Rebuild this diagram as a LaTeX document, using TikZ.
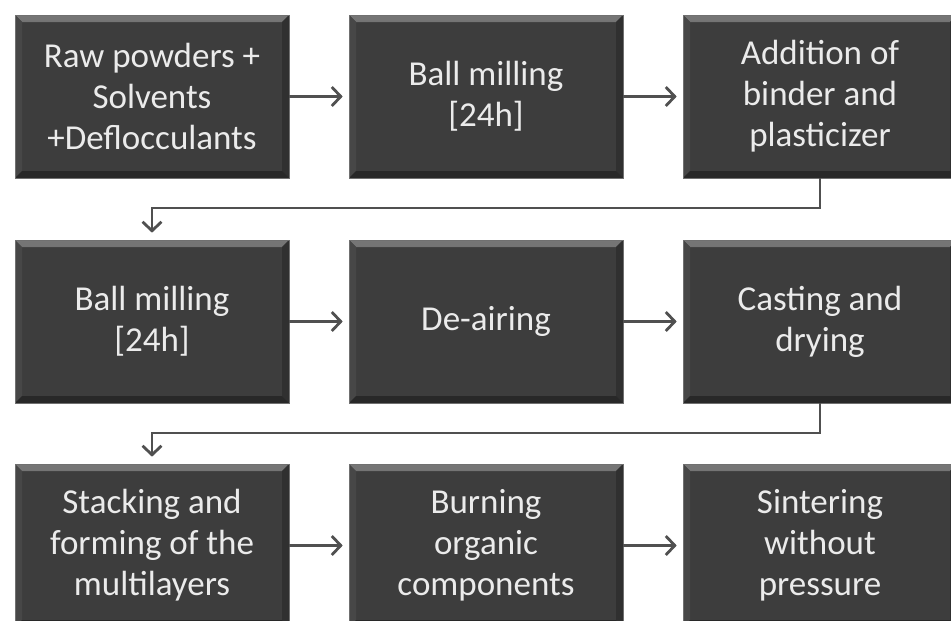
\documentclass[tikz,border=0pt]{standalone}
\usepackage{fontspec}
\setmainfont{Carlito}
\usetikzlibrary{arrows.meta,calc}
\definecolor{boxface}{HTML}{3D3D3D}
\definecolor{bevlight}{HTML}{767676}
\definecolor{bevmid}{HTML}{4C4C4C}
\definecolor{bevleft}{HTML}{474747}
\definecolor{bevright}{HTML}{303030}
\definecolor{bevbot}{HTML}{282828}
\definecolor{boxedge}{HTML}{707070}
\definecolor{conncol}{HTML}{505050}
\definecolor{txtcol}{HTML}{EBEBEB}
\tikzset{
  stepbox/.style={
    rectangle, minimum width=274pt, minimum height=163pt, inner sep=0pt,
    align=center, text=txtcol, fill=boxface, draw=boxedge, line width=0.6pt,
    font=\fontsize{35}{41}\selectfont,
    path picture={
      \shade[top color=bevlight, bottom color=bevmid]
        (path picture bounding box.north west) -- (path picture bounding box.north east)
        -- ([shift={(-7pt,-7pt)}]path picture bounding box.north east)
        -- ([shift={(7pt,-7pt)}]path picture bounding box.north west) -- cycle;
      \fill[bevleft]
        (path picture bounding box.north west) -- ([shift={(7pt,-7pt)}]path picture bounding box.north west)
        -- ([shift={(7pt,7pt)}]path picture bounding box.south west)
        -- (path picture bounding box.south west) -- cycle;
      \fill[bevright]
        (path picture bounding box.north east) -- ([shift={(-7pt,-7pt)}]path picture bounding box.north east)
        -- ([shift={(-7pt,7pt)}]path picture bounding box.south east)
        -- (path picture bounding box.south east) -- cycle;
      \fill[bevbot]
        (path picture bounding box.south west) -- (path picture bounding box.south east)
        -- ([shift={(-7pt,7pt)}]path picture bounding box.south east)
        -- ([shift={(7pt,7pt)}]path picture bounding box.south west) -- cycle;
    }
  },
  conn/.style={draw=conncol, line width=2.4pt,
    -{Straight Barb[length=9pt,width=19pt,line width=2.8pt]}}
}
\begin{document}
\begin{tikzpicture}[x=1pt,y=-1pt]
\useasboundingbox (0,0) rectangle (951,621);
\clip (0,0) rectangle (951,621);
\fill[white] (0,0) rectangle (951,621);
% row 1
\node[stepbox] (b1) at (152,96.5) {Raw powders +\\Solvents\\+Deflocculants};
\node[stepbox] (b2) at (486,96.5) {Ball milling\\{}[24h]};
\node[stepbox] (b3) at (820,96.5) {Addition of\\binder and\\plasticizer};
% row 2
\node[stepbox] (b4) at (152,321.5) {Ball milling\\{}[24h]};
\node[stepbox] (b5) at (486,321.5) {De-airing};
\node[stepbox] (b6) at (820,321.5) {Casting and\\drying};
% row 3
\node[stepbox] (b7) at (152,545.5) {Stacking and\\forming of the\\multilayers};
\node[stepbox] (b8) at (486,545.5) {Burning\\organic\\components};
\node[stepbox] (b9) at (820,545.5) {Sintering\\without\\pressure};
% connectors
\coordinate (t1) at (152,208);
\coordinate (t2) at (152,433);
\draw[conn, shorten >=6pt] (b1) -- (b2);
\draw[conn, shorten >=6pt] (b2) -- (b3);
\draw[conn, shorten >=6pt] (b4) -- (b5);
\draw[conn, shorten >=6pt] (b5) -- (b6);
\draw[conn, shorten >=6pt] (b7) -- (b8);
\draw[conn, shorten >=6pt] (b8) -- (b9);
\draw[conn, shorten >=7pt] (b3.south) |- (t1) -- (b4.north);
\draw[conn, shorten >=7pt] (b6.south) |- (t2) -- (b7.north);
\end{tikzpicture}
\end{document}
